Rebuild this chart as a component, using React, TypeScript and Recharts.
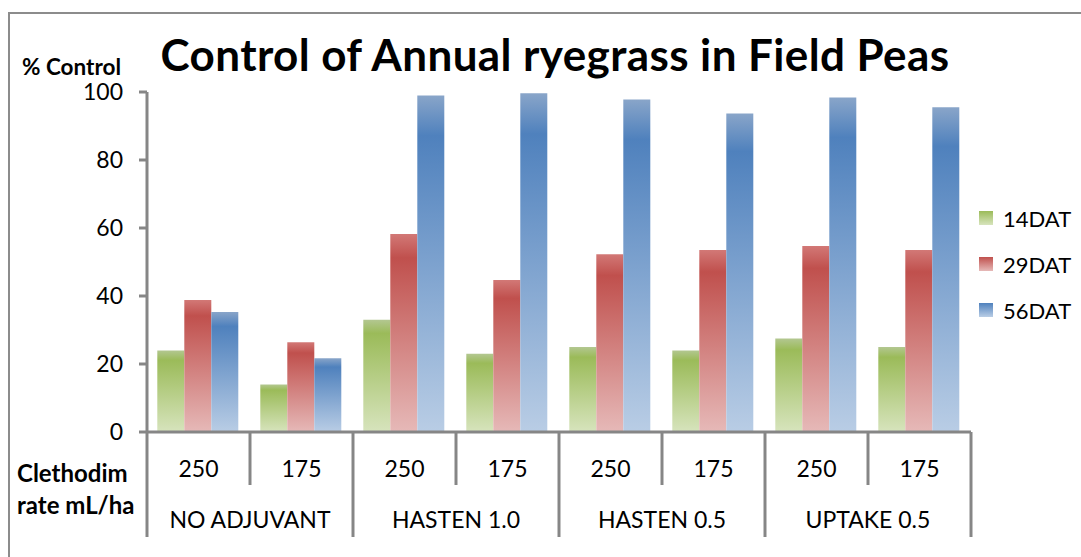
import { BarChart, Bar, XAxis, YAxis } from 'recharts'

const rates = ['250', '175', '250', '175', '250', '175', '250', '175']
const groups = ['NO ADJUVANT', 'HASTEN 1.0', 'HASTEN 0.5', 'UPTAKE 0.5']
const dat14 = [24, 14, 33, 23, 25, 24, 27.5, 25]
const dat29 = [38.8, 26.4, 58.2, 44.7, 52.3, 53.5, 54.7, 53.5]
const dat56 = [35.3, 21.7, 99, 99.6, 97.8, 93.7, 98.4, 95.5]
const yTicks = [0, 20, 40, 60, 80, 100]
const seriesNames = ['14DAT', '29DAT', '56DAT']

const data = rates.map((rate, i) => ({
  rate,
  d14: dat14[i],
  d29: dat29[i],
  d56: dat56[i],
}))

const FONT = 'Lato, "Open Sans", sans-serif'
const AXIS = '#868686'

// top (greyish), saturated band, pale bottom
const palette = [
  { id: 'gGreen', top: '#b3c791', mid: '#9bbb59', bottom: '#d7e4bd' },
  { id: 'gRed', top: '#d27876', mid: '#c0504d', bottom: '#e6b9b8' },
  { id: 'gBlue', top: '#89a5c9', mid: '#4f81bd', bottom: '#b9cde5' },
]

const Gradients = () => (
  <defs>
    {palette.map(p => (
      <linearGradient key={p.id} id={p.id} x1="0" y1="0" x2="0" y2="1">
        <stop offset="0%" stopColor={p.top} />
        <stop offset="12%" stopColor={p.mid} />
        <stop offset="100%" stopColor={p.bottom} />
      </linearGradient>
    ))}
  </defs>
)

const RateTick = (props: any) => {
  const { x, y, payload, index } = props
  const half = payload?.offset || 51.5
  const i = index ?? payload.index
  const left = x - half
  return (
    <g>
      <line x1={left} x2={left} y1={y} y2={y + (i % 2 === 0 ? 105 : 53)} stroke={AXIS} strokeWidth={3} />
      {i === rates.length - 1 && (
        <line x1={x + half} x2={x + half} y1={y} y2={y + 105} stroke={AXIS} strokeWidth={3} />
      )}
      <text x={x} y={y + 36} textAnchor="middle" dominantBaseline="central" fontSize={23} fontFamily={FONT} fill="#000">
        {payload.value}
      </text>
      {i % 2 === 0 && (
        <text x={x + half} y={y + 87} textAnchor="middle" dominantBaseline="central" fontSize={23} fontFamily={FONT} fill="#000">
          {groups[i / 2]}
        </text>
      )}
    </g>
  )
}

export default function App() {
  return (
    <div style={{ position: 'absolute', left: 0, top: 0, width: 1081, height: 557, overflow: 'hidden', background: '#fff' }}>
      <div style={{ position: 'absolute', left: 8, top: 12, width: 1200, height: 700, border: '2px solid #8c8c8c', boxSizing: 'border-box' }} />
      <BarChart
        width={1081}
        height={557}
        data={data}
        margin={{ top: 92, right: 110, bottom: 0, left: 0 }}
        barGap={0}
        barCategoryGap="10%"
        style={{ position: 'absolute', left: 0, top: 0 }}
      >
        <Gradients />
        <XAxis
          dataKey="rate"
          height={125}
          interval={0}
          tickSize={0}
          tickMargin={0}
          tickLine={false}
          axisLine={{ stroke: AXIS, strokeWidth: 3 }}
          tick={<RateTick />}
        />
        <YAxis
          width={147}
          domain={[0, 100]}
          ticks={yTicks}
          tickSize={8}
          tickMargin={16}
          axisLine={{ stroke: AXIS, strokeWidth: 3 }}
          tickLine={{ stroke: AXIS, strokeWidth: 3 }}
          tick={{ fill: '#000', fontSize: 23, fontFamily: FONT }}
        />
        <Bar dataKey="d14" name="14DAT" fill="url(#gGreen)" isAnimationActive={false} />
        <Bar dataKey="d29" name="29DAT" fill="url(#gRed)" isAnimationActive={false} />
        <Bar dataKey="d56" name="56DAT" fill="url(#gBlue)" isAnimationActive={false} />
      </BarChart>

      <div style={{ position: 'absolute', left: 0, width: 1110, top: 28, textAlign: 'center', fontFamily: FONT, fontWeight: 700, fontSize: 44, letterSpacing: 0.4, lineHeight: '52px', color: '#000' }}>
        Control of Annual ryegrass in Field Peas
      </div>
      <div style={{ position: 'absolute', left: 22, top: 57, fontFamily: FONT, fontWeight: 700, fontSize: 22.5, lineHeight: '20px', color: '#000' }}>
        % Control
      </div>
      <div style={{ position: 'absolute', left: 17, top: 457, fontFamily: FONT, fontWeight: 700, fontSize: 24, lineHeight: '32px', color: '#000' }}>
        Clethodim<br />rate mL/ha
      </div>

      <div style={{ position: 'absolute', left: 979, top: 195, fontFamily: FONT, fontSize: 22, color: '#000' }}>
        {seriesNames.map((name, i) => (
          <div key={name} style={{ display: 'flex', alignItems: 'center', height: 46 }}>
            <svg width={14} height={14} style={{ marginRight: 10 }}>
              <defs>
                <linearGradient id={`lg${i}`} x1="0" y1="0" x2="0" y2="1">
                  <stop offset="0%" stopColor={palette[i].mid} />
                  <stop offset="100%" stopColor={palette[i].bottom} />
                </linearGradient>
              </defs>
              <rect width={14} height={14} fill={`url(#lg${i})`} />
            </svg>
            <span>{name}</span>
          </div>
        ))}
      </div>
    </div>
  )
}
